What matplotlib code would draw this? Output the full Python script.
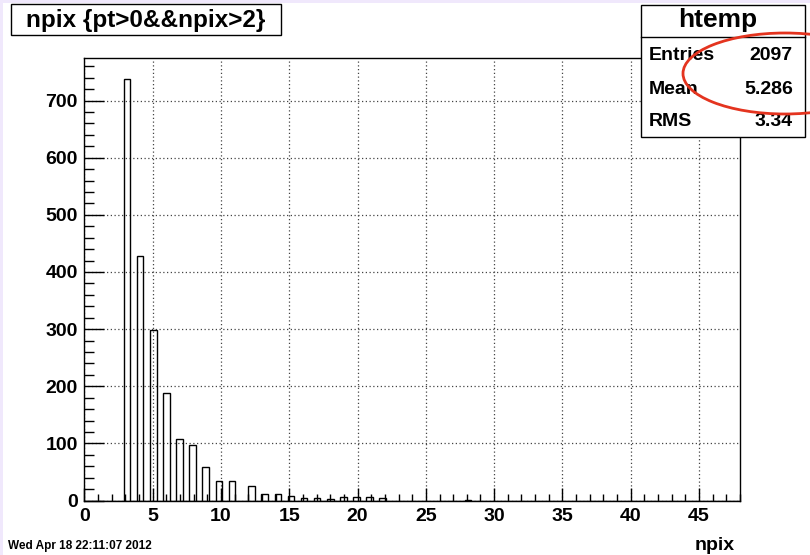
import matplotlib
matplotlib.use("Agg")
import matplotlib.pyplot as plt
from matplotlib.patches import Rectangle, Ellipse
from matplotlib.ticker import MultipleLocator

# ---- data ----
npix_values = [3, 4, 5, 6, 7, 8, 9, 10, 11, 12, 13, 14, 15, 16, 17, 18, 19, 20, 21, 22, 28]
counts = [738, 428, 299, 188, 108, 98, 59, 35, 35, 26, 11, 11, 8, 5, 4, 2, 6, 6, 6, 4, 1]
n_bins = 100
x_range = (0, 48)
y_max = 775
x_major, x_minor = 5, 1
y_major, y_minor = 100, 20

title_text = "npix {pt>0&&npix>2}"
stats_name = "htemp"
stats_labels = ["Entries", "Mean", "RMS"]
stats_values = ["2097", "5.286", "3.34"]
x_label = "npix"
date_text = "Wed Apr 18 22:11:07 2012"

W, H = 810, 555
FONT = "Liberation Sans"

def fx(px):
    return px / W

def fy(py):
    return 1 - py / H

fig = plt.figure(figsize=(W / 100, H / 100), dpi=100)
fig.patch.set_facecolor("#f0e8fc")
fig.add_artist(Rectangle((fx(3), 0), 1, fy(3), transform=fig.transFigure,
                         facecolor="white", edgecolor="none", zorder=-10))

left, right, top, bottom = 84.4, 740.0, 57.7, 500.5
ax = fig.add_axes([fx(left), fy(bottom), fx(right - left), (bottom - top) / H])
ax.hist(npix_values, bins=n_bins, range=x_range, weights=counts, histtype="bar",
        facecolor="none", edgecolor="black", linewidth=1.0, zorder=3)
ax.set_xlim(*x_range)
ax.set_ylim(0, y_max)

ax.xaxis.set_major_locator(MultipleLocator(x_major))
ax.xaxis.set_minor_locator(MultipleLocator(x_minor))
ax.yaxis.set_major_locator(MultipleLocator(y_major))
ax.yaxis.set_minor_locator(MultipleLocator(y_minor))
ax.tick_params(which="both", direction="in", top=False, right=False, width=1, color="black")
ax.tick_params(axis="x", which="major", length=9.6, pad=5.5)
ax.tick_params(axis="x", which="minor", length=4.8)
ax.tick_params(axis="y", which="major", length=14.2, pad=4.8)
ax.tick_params(axis="y", which="minor", length=7.1)
ax.grid(True, which="major", linestyle=(0, (1, 2)), color="#444444", linewidth=0.9, zorder=1)
ax.set_axisbelow(True)
for lab in ax.get_xticklabels() + ax.get_yticklabels():
    lab.set_fontfamily(FONT)
    lab.set_fontweight("bold")
    lab.set_fontsize(14)
for sp in ax.spines.values():
    sp.set_linewidth(1)
    sp.set_color("black")

# x-axis title
fig.text(fx(735), fy(550), x_label, ha="right", va="baseline",
         fontfamily=FONT, fontweight="bold", fontsize=14)

# date stamp
fig.text(fx(8), fy(546), date_text, ha="left", va="center",
         fontfamily=FONT, fontweight="bold", fontsize=8.5)

# title box
tx0, ty0, tx1, ty1 = 10.7, 4.0, 281.0, 35.0
fig.add_artist(Rectangle((fx(tx0), fy(ty1)), fx(tx1 - tx0), (ty1 - ty0) / H,
                         transform=fig.transFigure, facecolor="white",
                         edgecolor="black", linewidth=1, zorder=5))
fig.text(fx((tx0 + tx1) / 2), fy(20), title_text, ha="center", va="center",
         fontfamily=FONT, fontweight="bold", fontsize=17.5, zorder=6)

# stats box
sx0, sy0, sx1, sy1 = 640.7, 4.7, 805.0, 137.0
fig.add_artist(Rectangle((fx(sx0), fy(sy1)), fx(sx1 - sx0), (sy1 - sy0) / H,
                         transform=fig.transFigure, facecolor="white",
                         edgecolor="black", linewidth=1, zorder=5))
fig.add_artist(plt.Line2D([fx(sx0), fx(sx1)], [fy(37.3), fy(37.3)],
                          transform=fig.transFigure, color="black", linewidth=1, zorder=6))
fig.text(fx(718), fy(20.5), stats_name, ha="center", va="center",
         fontfamily=FONT, fontweight="bold", fontsize=19, zorder=6)
row_y = [55, 89, 121]
for lab, val, yy in zip(stats_labels, stats_values, row_y):
    fig.text(fx(649), fy(yy), lab, ha="left", va="center",
             fontfamily=FONT, fontweight="bold", fontsize=14, zorder=6)
    fig.text(fx(793), fy(yy), val, ha="right", va="center",
             fontfamily=FONT, fontweight="bold", fontsize=14, zorder=6)

# red hand-drawn ellipse annotation
fig.add_artist(Ellipse((fx(785), fy(73.5)), fx(204), 81 / H, transform=fig.transFigure,
                       facecolor="none", edgecolor="#e4341f", linewidth=2.0, zorder=7))

fig.savefig("out.png", dpi=100, facecolor=fig.get_facecolor())
